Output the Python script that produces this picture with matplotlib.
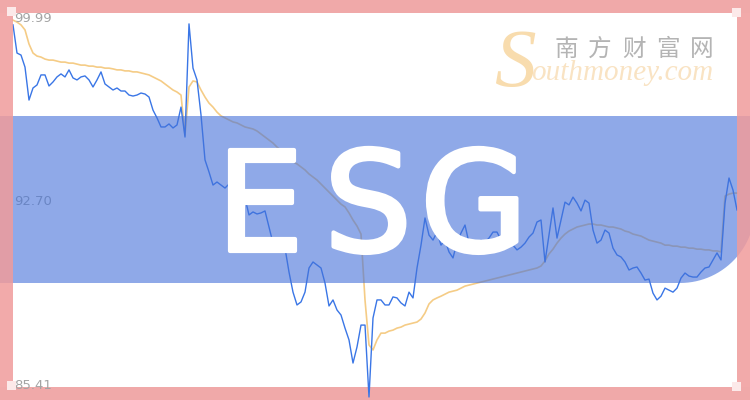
import numpy as np
import matplotlib
matplotlib.use("Agg")
import matplotlib.pyplot as plt
from matplotlib.patches import Rectangle, PathPatch
from matplotlib.path import Path
import matplotlib.patheffects as pe

# price series (one sample per step)
price = [
    99.74, 98.62, 98.54, 98.06, 96.75, 97.23, 97.35, 97.75, 97.75, 97.31,
    97.47, 97.67, 97.79, 97.67, 97.95, 97.63, 97.55, 97.67, 97.71, 97.55,
    97.27, 97.55, 97.87, 97.39, 97.27, 97.15, 97.23, 97.11, 97.11, 96.95,
    96.91, 96.95, 97.03, 96.99, 96.87, 96.35, 96.04, 95.68, 95.68, 95.80,
    95.64, 95.76, 96.47, 95.28, 99.78, 98.02, 97.55, 96.16, 94.37, 93.89,
    93.37, 93.49, 93.37, 93.25, 93.41, 93.17, 93.33, 93.17, 92.85, 92.18,
    92.30, 92.22, 92.26, 92.34, 91.70, 91.06, 90.98, 90.79, 90.86, 89.91,
    89.11, 88.60, 88.72, 89.11, 90.07, 90.31, 90.19, 90.07, 89.47, 88.56,
    88.80, 88.40, 88.20, 87.68, 87.21, 86.29, 86.93, 87.80, 87.80, 84.94,
    88.08, 88.80, 88.80, 88.60, 88.60, 88.92, 88.88, 88.68, 88.56, 89.11,
    88.88, 90.07, 90.98, 92.06, 91.38, 91.18, 91.50, 90.98, 91.18, 90.71,
    90.47, 91.10, 91.46, 91.78, 91.06, 90.90, 90.98, 91.18, 91.10, 91.26,
    91.50, 91.50, 91.18, 91.10, 91.26, 90.98, 90.79, 90.90, 91.06, 91.30,
    91.46, 91.90, 91.98, 90.31, 91.38, 92.46, 91.26, 91.98, 92.69, 92.58,
    92.89, 92.65, 92.34, 92.77, 92.65, 91.58, 91.06, 91.18, 91.58, 91.46,
    90.86, 90.59, 90.51, 90.31, 89.99, 90.07, 90.11, 89.87, 89.59, 89.63,
    89.07, 88.80, 88.95, 89.27, 89.19, 89.11, 89.27, 89.67, 89.87, 89.75,
    89.71, 89.71, 89.91, 90.07, 90.11, 90.39, 90.67, 90.39, 92.65, 93.65,
    93.17, 92.38,
]

# average price line
avg_price = [
    99.93, 99.85, 99.74, 99.54, 98.98, 98.62, 98.50, 98.46, 98.38, 98.34,
    98.34, 98.30, 98.26, 98.26, 98.22, 98.22, 98.18, 98.14, 98.14, 98.10,
    98.10, 98.06, 98.06, 98.02, 98.02, 97.99, 97.95, 97.95, 97.91, 97.91,
    97.87, 97.87, 97.83, 97.79, 97.75, 97.67, 97.59, 97.51, 97.39, 97.27,
    97.15, 97.07, 96.95, 95.36, 97.27, 97.51, 97.47, 97.15, 96.87, 96.63,
    96.47, 96.27, 96.12, 96.04, 95.96, 95.88, 95.84, 95.76, 95.68, 95.64,
    95.60, 95.52, 95.40, 95.28, 95.16, 95.04, 94.88, 94.76, 94.64, 94.48,
    94.29, 94.21, 94.09, 93.97, 93.81, 93.69, 93.57, 93.41, 93.25, 93.09,
    92.93, 92.77, 92.61, 92.50, 92.26, 91.98, 91.74, 91.42, 88.80, 87.01,
    86.81, 87.21, 87.48, 87.48, 87.56, 87.60, 87.68, 87.72, 87.80, 87.84,
    87.88, 87.92, 88.04, 88.28, 88.64, 88.80, 88.88, 88.95, 89.03, 89.11,
    89.15, 89.19, 89.27, 89.35, 89.39, 89.43, 89.47, 89.51, 89.55, 89.59,
    89.63, 89.67, 89.71, 89.75, 89.79, 89.83, 89.87, 89.91, 89.95, 89.99,
    90.03, 90.07, 90.15, 90.35, 90.63, 90.82, 91.06, 91.26, 91.42, 91.54,
    91.62, 91.70, 91.74, 91.78, 91.82, 91.82, 91.78, 91.78, 91.74, 91.70,
    91.70, 91.66, 91.62, 91.54, 91.50, 91.42, 91.38, 91.34, 91.26, 91.18,
    91.14, 91.10, 91.06, 90.98, 90.98, 90.94, 90.94, 90.90, 90.90, 90.86,
    90.86, 90.82, 90.82, 90.79, 90.79, 90.75, 90.75, 90.71, 92.93, 93.01,
    93.05, 93.05,
]

y_ticks = [99.99, 92.70, 85.41]

PINK = "#f0a9a9"
PINK_TOP = (240 / 255, 155 / 255, 155 / 255)
BAND = (68 / 255, 113 / 255, 217 / 255)

fig = plt.figure(figsize=(7.5, 4), dpi=100)
fig.patch.set_facecolor("white")

# bottom layer: pink frame top/bottom
base = fig.add_axes([0, 0, 1, 1])
base.set_xlim(0, 750)
base.set_ylim(400, 0)
base.axis("off")
base.add_patch(Rectangle((0, 0), 750, 13, color=PINK, lw=0))
base.add_patch(Rectangle((0, 387), 750, 13, color=PINK, lw=0))

# chart layer
ax = fig.add_axes([0, 0, 1, 1])
ax.patch.set_alpha(0)
ax.axis("off")
x = np.arange(len(price))
ax.set_xlim(-13 / 4, (750 - 13) / 4)
ax.set_ylim(84.82, 100.73)
ax.plot(x, avg_price, color="#f5cc86", lw=1.2, solid_joinstyle="round")
ax.plot(x, price, color="#3a76e6", lw=1.0, solid_joinstyle="round")
for v in y_ticks:
    ax.text(0.019, v, f"{v:.2f}", transform=ax.get_yaxis_transform(),
            ha="left", va="center", fontsize=9.5, color="#a4a4a4")

# top layer: band, side strips, title, watermark
top = fig.add_axes([0, 0, 1, 1])
top.patch.set_alpha(0)
top.set_xlim(0, 750)
top.set_ylim(400, 0)
top.axis("off")

# band with a rounded bottom-right corner
r = 75
cx, cy = 755 - r, 283 - r
t = np.linspace(0, np.pi / 2, 30)
verts = [(0, 116), (755, 116)] + list(zip(cx + r * np.cos(t), cy + r * np.sin(t))) + [(0, 283), (0, 116)]
codes = [Path.MOVETO] + [Path.LINETO] * (len(verts) - 2) + [Path.CLOSEPOLY]
top.add_patch(PathPatch(Path(verts, codes), facecolor=BAND, alpha=0.6, lw=0))

top.add_patch(Rectangle((0, 13), 13, 374, facecolor=PINK_TOP, alpha=0.85, lw=0))
top.add_patch(Rectangle((737, 13), 13, 374, facecolor=PINK_TOP, alpha=0.85, lw=0))

# little light squares in the frame corners
for (sx, sy) in [(7, 7), (732, 8), (7, 381), (732, 382)]:
    top.add_patch(Rectangle((sx, sy), 9, 9, facecolor="#fce9e9", lw=0))

# big title
for ch, cxx in zip("ESG", [260, 368, 474]):
    top.text(cxx, 251, ch, ha="center", va="baseline", fontsize=100,
             family="DejaVu Sans", color="white",
             path_effects=[pe.withStroke(linewidth=3, foreground="white")])

# watermark
for i, ch in enumerate("南方财富网"):
    top.text(566 + 34 * i, 49, ch, ha="center", va="center", fontsize=17,
             family=["Noto Sans CJK SC", "DejaVu Sans"], color="#b4b4b4")
top.text(494, 86, "S", ha="left", va="baseline", fontsize=60,
         family="Liberation Serif", style="italic", color="#f8dcae")
top.text(531, 80, "outhmoney.com", ha="left", va="baseline", fontsize=21,
         family="Liberation Serif", style="italic", color="#f9e3c3")

fig.savefig("out.png", dpi=100)
